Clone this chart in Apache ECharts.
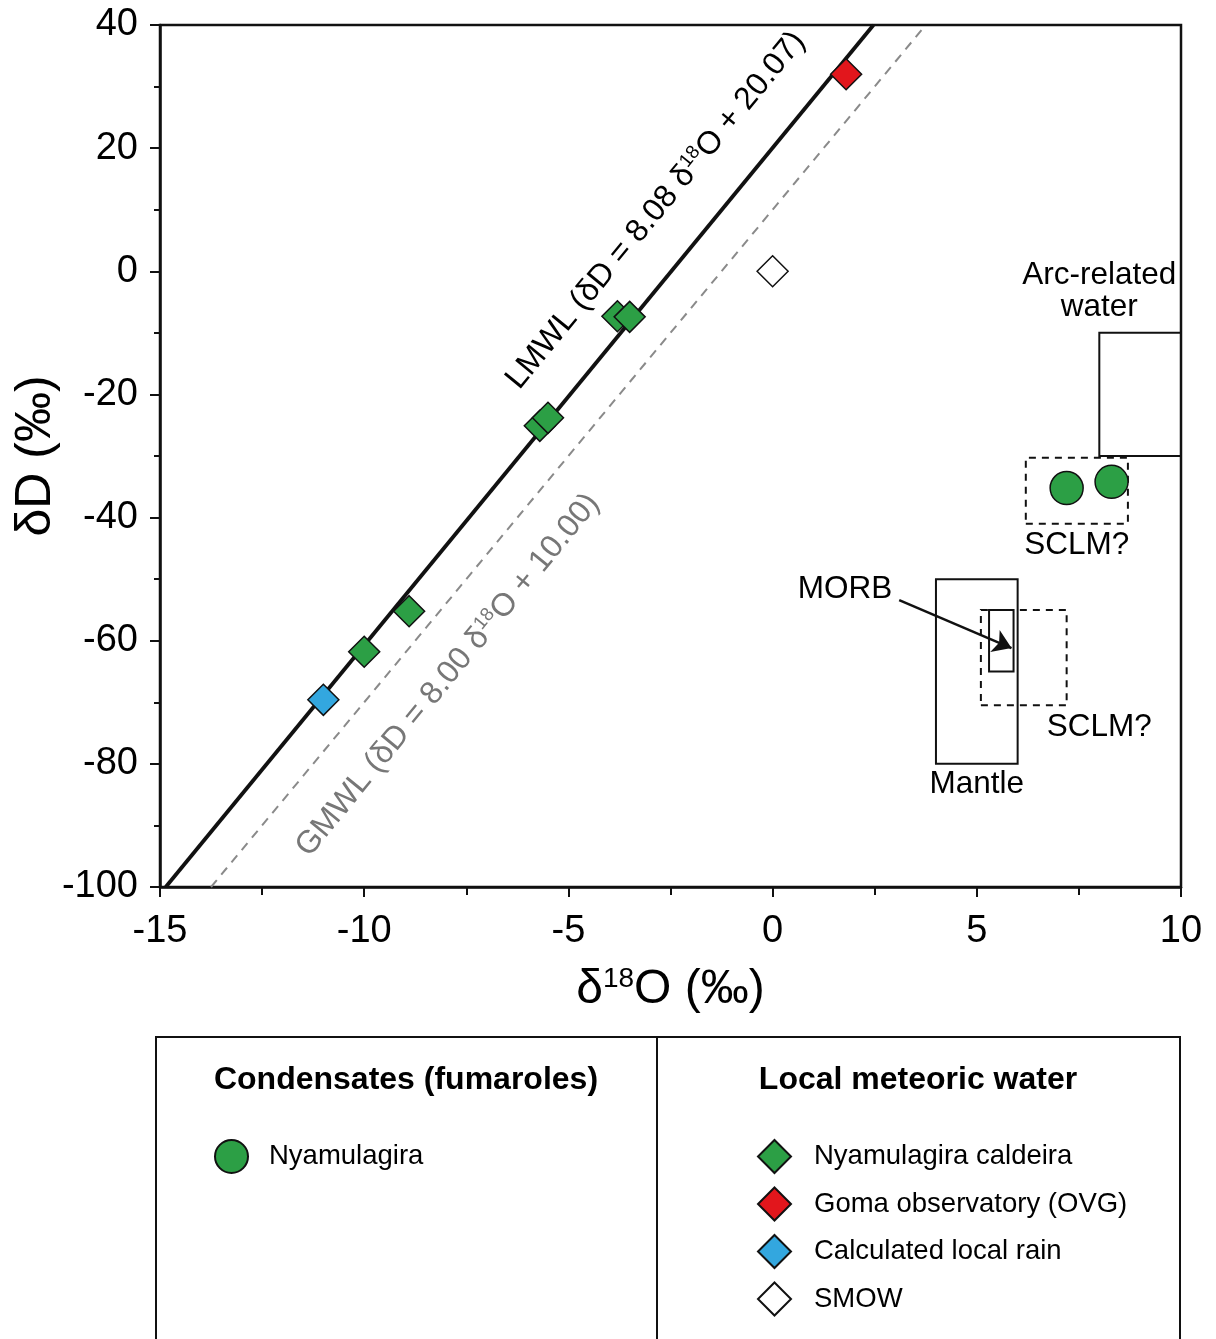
<!DOCTYPE html>
<html>
<head>
<meta charset="utf-8">
<script src="https://cdn.jsdelivr.net/npm/echarts@6/dist/echarts.min.js"></script>
<style>
  html, body { margin: 0; padding: 0; background: #fff; }
  #chart { width: 1216px; height: 1339px; }
</style>
</head>
<body>
<div id="chart"></div>
<script>
const FONT = '"Liberation Sans", Arial, Helvetica, sans-serif';

// samples, [d18O, dD]
const fumaroles = [[7.2, -35.2], [8.3, -34.2]];
const caldeira = [[-3.8, -7.3], [-3.5, -7.4], [-5.7, -25.1], [-5.5, -23.8], [-8.9, -55.2], [-10.0, -61.8]];
const goma = [[1.8, 32.0]];
const localRain = [[-11.0, -69.6]];
const smow = [[0, 0]];

// meteoric water lines, end points on the frame
const lmwl = [[-14.86, -100], [2.47, 40]];
const gmwl = [[-13.75, -100], [3.75, 40]];

// reference fields [xmin, ymin, xmax, ymax]
const solidBoxes = [[8, -30, 10, -10], [4, -80, 6, -50], [5.3, -65, 5.9, -55]];
const dashedBoxes = [[6.2, -41, 8.7, -30.3], [5.1, -70.5, 7.2, -55]];
const morbArrow = [[3.1, -53.4], [5.85, -61.2]];

// annotation anchors
const notes = [
  { text: 'Arc-related\nwater', at: [8.0, -3.3] },
  { text: 'SCLM?', at: [7.45, -44.5] },
  { text: 'MORB', at: [1.77, -51.6] },
  { text: 'SCLM?', at: [8.0, -74.0] },
  { text: 'Mantle', at: [5.0, -83.4] }
];
const lineLabels = [
  { text: '{a|LMWL (δD = 8.08 δ}{s|18}{a|O + 20.07)}', at: [-2.86, 9.9], color: '#000' },
  { text: '{a|GMWL (δD = 8.00 δ}{s|18}{a|O + 10.00)}', at: [-7.95, -65.6], color: '#777' }
];

const GREEN = '#2c9f45';
const RED = '#e2161c';
const BLUE = '#33a7df';
const INK = '#000';

const boxData = boxes => boxes.map(b => [{ coord: [b[0], b[1]] }, { coord: [b[2], b[3]] }]);

const sampleSeries = (name, data, symbol, size, color) => ({
  name: name,
  type: 'scatter',
  data: data,
  symbol: symbol,
  symbolSize: size,
  z: 5,
  itemStyle: { color: color, borderColor: '#111', borderWidth: 1.5, opacity: 1 },
  emphasis: { disabled: true }
});

const option = {
  animation: false,
  backgroundColor: '#fff',
  textStyle: { fontFamily: FONT },
  grid: {
    left: 160, right: 35, top: 25, bottom: 452,
    outerBoundsMode: 'none', containLabel: false,
    show: true, borderColor: '#111', borderWidth: 2.5, backgroundColor: 'transparent'
  },
  xAxis: {
    type: 'value', min: -15, max: 10, interval: 5,
    name: '{a|δ}{s|18}{a|O (‰)}',
    nameLocation: 'middle', nameGap: 78, nameMoveOverlap: false,
    nameTextStyle: {
      rich: {
        a: { fontSize: 48, fontFamily: FONT, color: INK, lineHeight: 50 },
        s: { fontSize: 28, fontFamily: FONT, color: INK, verticalAlign: 'top', lineHeight: 50 }
      }
    },
    axisLine: { onZero: false, lineStyle: { color: '#111', width: 2.5 } },
    axisTick: { length: 10, lineStyle: { color: '#111', width: 2 } },
    minorTick: { show: true, splitNumber: 2, length: 8, lineStyle: { color: '#111', width: 2 } },
    axisLabel: { fontSize: 38, color: INK, margin: 26, fontFamily: FONT },
    splitLine: { show: false }
  },
  yAxis: {
    type: 'value', min: -100, max: 40, interval: 20,
    name: 'δD (‰)',
    nameLocation: 'middle', nameGap: 99, nameMoveOverlap: false,
    nameTextStyle: { fontSize: 50, color: INK, fontFamily: FONT },
    axisLine: { onZero: false, lineStyle: { color: '#111', width: 2.5 } },
    axisTick: { length: 10, lineStyle: { color: '#111', width: 2 } },
    minorTick: { show: true, splitNumber: 2, length: 6, lineStyle: { color: '#111', width: 2 } },
    axisLabel: { fontSize: 38, color: INK, margin: 22, fontFamily: FONT },
    splitLine: { show: false }
  },
  legend: [{
    data: ['Nyamulagira'],
    left: 214, top: 1139, padding: 0,
    itemWidth: 33, itemHeight: 33,
    selectedMode: false,
    textStyle: { fontSize: 27.5, color: INK, fontFamily: FONT, padding: [0, 0, 0, 16] }
  }, {
    data: ['Nyamulagira caldeira', 'Goma observatory (OVG)', 'Calculated local rain', 'SMOW'],
    orient: 'vertical',
    left: 757, top: 1139, padding: 0,
    itemWidth: 33, itemHeight: 33, itemGap: 12.5,
    selectedMode: false,
    textStyle: { fontSize: 27.5, color: INK, fontFamily: FONT, padding: [0, 0, 0, 18] }
  }],
  series: [
    {
      type: 'line', data: gmwl, symbol: 'none', silent: true, z: 2,
      lineStyle: { color: '#8a8a8a', width: 2, type: [9, 7] }
    },
    {
      type: 'line', data: lmwl, symbol: 'none', silent: true, z: 3,
      lineStyle: { color: '#111', width: 3.8 }
    },
    {
      type: 'scatter', data: [], silent: true,
      markArea: {
        silent: true,
        itemStyle: { color: 'rgba(0,0,0,0)', borderColor: '#111', borderWidth: 2 },
        data: boxData(solidBoxes)
      },
      markLine: {
        silent: true,
        symbol: ['none', 'arrow'], symbolSize: 18,
        lineStyle: { color: '#111', width: 2.5, type: 'solid' },
        itemStyle: { color: '#111' },
        label: { show: false },
        data: [[{ coord: morbArrow[0] }, { coord: morbArrow[1] }]]
      }
    },
    {
      type: 'scatter', data: [], silent: true,
      markArea: {
        silent: true,
        itemStyle: { color: 'rgba(0,0,0,0)', borderColor: '#111', borderWidth: 2, borderType: [7, 6] },
        data: boxData(dashedBoxes)
      }
    },
    {
      type: 'scatter', silent: true, symbolSize: 0, z: 4,
      itemStyle: { opacity: 1 },
      data: notes.map(n => ({ value: n.at, label: { formatter: n.text, color: INK } })),
      label: {
        show: true, position: 'inside', fontSize: 31.5, lineHeight: 32, opacity: 1,
        color: INK, fontFamily: FONT, align: 'center', verticalAlign: 'middle'
      }
    },
    {
      type: 'scatter', silent: true, symbolSize: 0, z: 4,
      itemStyle: { opacity: 1 },
      data: lineLabels.map(l => ({
        value: l.at,
        label: {
          formatter: l.text,
          rich: {
            a: { fontSize: 32, color: l.color, fontFamily: FONT, lineHeight: 34 },
            s: { fontSize: 19, color: l.color, fontFamily: FONT, lineHeight: 34, verticalAlign: 'top' }
          }
        }
      })),
      label: { show: true, position: 'inside', rotate: 50.6, align: 'center', verticalAlign: 'middle', opacity: 1 }
    },
    sampleSeries('Nyamulagira', fumaroles, 'circle', 33, GREEN),
    sampleSeries('Nyamulagira caldeira', caldeira, 'diamond', 31, GREEN),
    sampleSeries('Goma observatory (OVG)', goma, 'diamond', 31, RED),
    sampleSeries('Calculated local rain', localRain, 'diamond', 31, BLUE),
    sampleSeries('SMOW', smow, 'diamond', 31, '#fff')
  ],
  graphic: [
    {
      type: 'rect', silent: true, z: 0,
      shape: { x: 156, y: 1037, width: 1024, height: 330 },
      style: { fill: 'none', stroke: '#111', lineWidth: 2 }
    },
    {
      type: 'line', silent: true,
      shape: { x1: 657, y1: 1037, x2: 657, y2: 1339 },
      style: { stroke: '#111', lineWidth: 2 }
    },
    {
      type: 'text', silent: true, x: 406, y: 1080,
      style: { text: 'Condensates (fumaroles)', font: 'bold 32px ' + FONT, fill: INK, align: 'center', verticalAlign: 'middle' }
    },
    {
      type: 'text', silent: true, x: 918, y: 1080,
      style: { text: 'Local meteoric water', font: 'bold 32px ' + FONT, fill: INK, align: 'center', verticalAlign: 'middle' }
    }
  ]
};

const chart = echarts.init(document.getElementById('chart'), null, { renderer: 'canvas' });
chart.setOption(option);
</script>
</body>
</html>
